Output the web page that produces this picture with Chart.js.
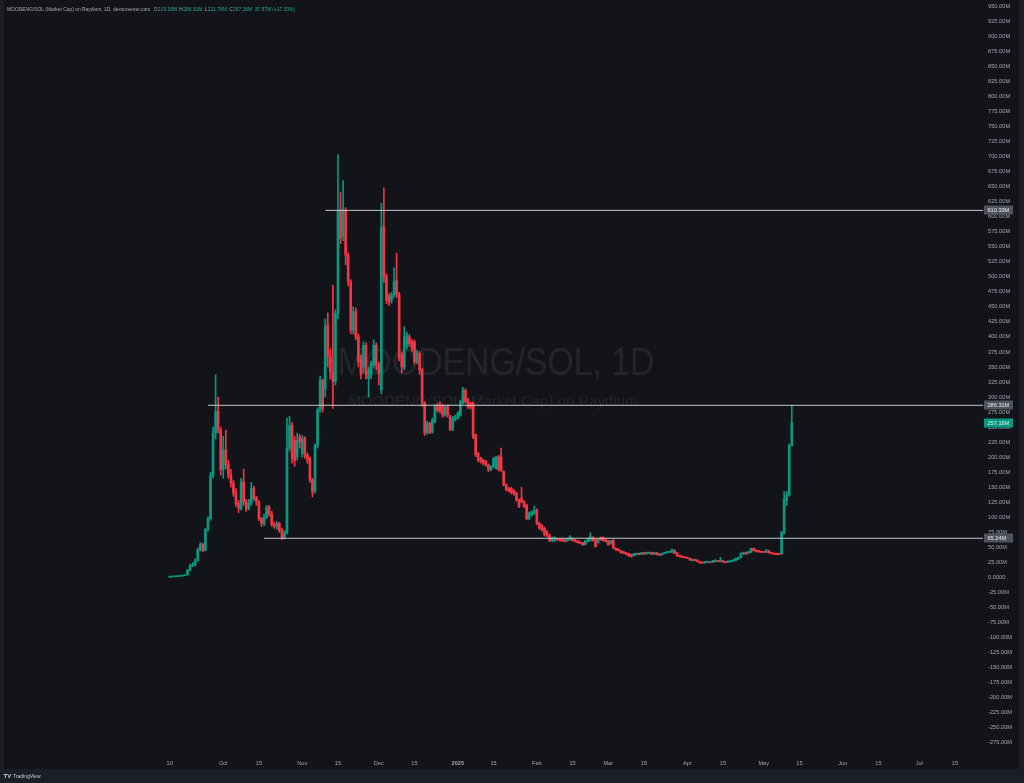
<!DOCTYPE html>
<html>
<head>
<meta charset="utf-8">
<script src="https://cdn.jsdelivr.net/npm/chart.js@4.4.1/dist/chart.umd.min.js"></script>
<style>
html,body{margin:0;padding:0;background:#1c1e25;}
#wrap{width:1024px;height:783px;}
</style>
</head>
<body>
<div id="wrap"><canvas id="c" width="1024" height="783"></canvas></div>
<script>
// ---------- DATA ----------
const axisStart = '2024-07-07';
const axisEnd = '2025-07-26';
const candleStart = '2024-09-10';

const opens = [0.5,1.0,1.2,1.6,2.0,2.5,3.2,4.2,12.5,20,21,28,46,55,45,80,98,170,240,276,245,180,212,188,170,157,140,123,115,159,126,115,124,148,132,125,98,90,100,117,106,88,85,90,79,66,74,215,253,228,201,234,206,231,204,198,162,145,220,278,328,314,420,367,342,326,439,611,567,611,536,492,411,442,400,364,350,386,331,337,353,386,353,312,583,500,467,461,470,494,470,370,350,386,400,392,392,359,373,345,290,241,256,242,259,284,287,284,270,284,267,246,262,265,270,290,311,295,290,290,237,206,198,195,193,187,179,184,182,201,200,176,154,148,148,144,140,129,132,126,120,98,104,107,112,90,86,82,76,70,61,62,64,64,63.5,62.4,61,62.4,65,62.4,61,59,58,55,59.6,61.2,67,63.5,57.9,66.8,66.8,63.5,61.2,56,62,48.5,47,44.6,43,41.3,40,38.5,36,38,40.2,38.5,41.3,39,40,41.8,39,41.3,39.6,37.4,40,41,42,41.8,45.7,41,37,35.5,34.6,33.5,32,28,30,29,26.3,25.5,24.2,25,26.3,25.2,26.3,28,26.3,28,26.3,25.2,26.3,27,28,30.2,33,39,41.8,40,42,48.5,45.7,44.6,43,42.5,41.8,44.6,41.8,40.2,40.2,39.6,39,75,128,137,219.18];
const highs = [1.2,1.5,1.9,2.4,3.0,3.8,5.0,13.5,22,25,31,49,58,57,82,101,175,250,337,300,250,235,245,195,180,162,148,128,165,180,130,130,158,152,135,128,100,105,120,120,110,92,93,92,82,78,265,268,258,235,240,238,236,234,207,200,165,222,282,335,330,430,440,380,486,445,703,640,660,615,540,495,450,448,405,370,392,390,350,360,395,390,358,622,648,505,472,474,515,539,474,375,417,408,404,396,395,378,376,348,292,260,258,265,287,290,292,288,286,287,270,268,270,276,295,316,314,298,292,292,239,208,200,197,195,189,186,200,202,203,215,178,156,150,150,146,142,131,150,128,122,109,111,119,114,92,88,84,78,72,67,68,65,64.5,64,63,64.5,69.5,65.5,63,61.5,59.5,58.5,61.5,65.5,74.5,67.5,64,64,67.5,67.5,64,61.5,61.8,62.5,49.5,48,45,43.5,42,40.5,39,40.2,40.7,40.7,41.8,41.8,42.3,42.3,42.3,41.8,41.8,40,40.7,42,43.3,44,47.5,46,41.5,37.5,36,35,34,32.5,30.7,30.5,29.5,26.8,26,26.8,27.2,26.8,28.5,29.5,28.5,33.5,28.5,26.8,27.9,28.5,29.6,32.4,34,40.7,42.3,42.3,43.5,49,49,46.2,45,43.5,43,46.2,45,42.3,40.7,40.7,40.2,77,143,143,222,286.31];
const lows = [0.4,0.9,1.1,1.4,1.8,2.3,3.0,4.0,11,18,19,27,44,43,44,77,95,165,230,240,170,165,180,165,150,135,118,108,112,120,110,112,120,128,120,95,85,86,98,102,85,82,80,75,63,64,72,210,190,185,195,215,200,198,190,158,134,140,215,275,275,300,350,330,281,320,430,555,560,520,485,405,405,395,350,330,340,330,300,330,348,345,320,305,490,455,452,456,466,465,360,340,345,380,384,376,355,355,338,285,236,238,239,240,257,275,273,266,268,266,244,244,260,263,268,288,290,281,280,231,201,192,190,187,185,176,177,182,180,177,176,152,144,142,139,137,127,116,124,116,96,96,102,105,88,80,77,69,68,59,59,60,61.5,60.5,60,59,60.5,62,60.5,59,57.5,56,53.5,54,59,60.5,60.5,50.5,57,62,60.5,59,53.5,55.5,48,45,44,40.5,39.5,38,35,34,35.5,37.5,37.5,38,38.5,38.5,39.5,38,38.5,37.5,36.5,37,39.5,40.5,41.5,41.5,39.5,35,34,33,32.5,31.5,28.5,27.5,27.5,25.8,23.6,23.6,23.8,24.7,24.2,24.7,25.8,25.8,25.8,25.2,24.2,24.7,25.8,26.5,27.5,29.7,32.5,38.5,38.5,39.5,41.5,44,42.5,42,41.5,41.3,41.3,40.5,39,38.5,37.5,38,38.5,72,120,135,219.18];
const closes = [1.0,1.2,1.6,2.0,2.5,3.2,4.2,12.5,20,21,28,46,55,45,80,98,170,240,276,245,179,212,188,170,157,140,123,115,159,126,115,124,148,132,125,98,90,100,117,106,88,85,90,79,66,74,215,253,198,195,228,225,231,204,195,162,142,220,278,328,281,417,367,342,326,439,611,564,611,536,492,411,442,400,359,337,386,337,345,356,386,353,340,583,500,461,458,470,492,470,364,350,400,403,389,381,359,373,345,290,240,256,241,262,284,278,276,270,284,270,246,265,267,273,292,312,292,284,283,234,204,195,193,190,187,179,184,198,200,179,179,154,146,144,141,139,129,118,126,118,98,107,109,112,90,82,79,71,70,61,65,66,62.4,61.2,60.7,59.6,64,67.9,61.2,59.6,57.9,56.8,54,61,65,67.9,61.2,51.3,63.5,62.4,61.2,59.6,54,61.2,48.5,45.7,44.6,41.3,40.2,38.5,35.7,34.6,39.6,40.2,38,41.3,39,41.8,41.8,38.5,41.3,38,37,40.2,41.3,42.8,43.5,45.7,40.2,35.7,34.6,33.5,33,31.9,29,30.2,28,26.3,24.2,24.2,26.3,26.8,24.7,28,29,26.3,28.5,25.8,24.7,27.4,28,29.1,31.9,33.5,40.2,41.8,39,43,48.5,44.6,43,42.5,42,41.8,45.7,41,39.6,39,38,38.5,75,130,137,220,257.16];

const levelValues = [610.33, 286.31, 65.24];
const levelStarts = ['2024-11-10', '2024-09-25', '2024-10-17'];

const yTickValues = [-275,-250,-225,-200,-175,-150,-125,-100,-75,-50,-25,0,25,50,75,100,125,150,175,200,225,250,275,300,325,350,375,400,425,450,475,500,525,550,575,600,625,650,675,700,725,750,775,800,825,850,875,900,925,950];

const xTickDates = ['2024-09-10','2024-10-01','2024-10-15','2024-11-01','2024-11-15','2024-12-01','2024-12-15','2025-01-01','2025-01-15','2025-02-01','2025-02-15','2025-03-01','2025-03-15','2025-04-01','2025-04-15','2025-05-01','2025-05-15','2025-06-01','2025-06-15','2025-07-01','2025-07-15'];
const xTickLabels = ['10','Oct','15','Nov','15','Dec','15','2025','15','Feb','15','Mar','15','Apr','15','May','15','Jun','15','Jul','15'];

const headerTitle = 'MOODENG/SOL (Market Cap) on Raydium, 1D, dexscreener.com';
const headerParts = [['O','219.18M'],['H','286.31M'],['L','221.76M'],['C','257.16M']];
const headerChange = '37.97M (+17.33%)';
const lastPrice = 257.16;
const watermark1 = 'MOODENG/SOL, 1D';
const watermark2 = 'MOODENG/SOL (Market Cap) on Raydium';

// ---------- BUILD ----------
const UP = '#089981', DOWN = '#f23645';
function iso(d){ return d.toISOString().slice(0,10); }
const labels = [];
for (let d = new Date(axisStart + 'T00:00:00Z'); d <= new Date(axisEnd + 'T00:00:00Z'); d.setUTCDate(d.getUTCDate()+1)) labels.push(iso(d));
const firstIdx = labels.indexOf(candleStart);
const lastLabel = labels[labels.length-1];

function candleAt(j){ const k = j - firstIdx; return (k >= 0 && k < closes.length) ? k : -1; }
const bodyData = labels.map((_, j) => { const k = candleAt(j); return k < 0 ? null : [opens[k], closes[k]]; });
const wickData = labels.map((_, j) => { const k = candleAt(j); return k < 0 ? null : [lows[k], highs[k]]; });
const colors = labels.map((_, j) => { const k = candleAt(j); return k < 0 ? UP : (closes[k] >= opens[k] ? UP : DOWN); });

const levelDatasets = levelValues.map((v, n) => ({
  type: 'line',
  data: [{x: levelStarts[n], y: v}, {x: lastLabel, y: v}],
  borderColor: '#c3c6ce', borderWidth: 1, pointRadius: 0, fill: false, order: 0
}));

const FONT = '"Liberation Sans", Arial, sans-serif';

const decor = {
  id: 'decor',
  beforeDraw(chart){
    const ctx = chart.ctx;
    ctx.save();
    ctx.fillStyle = '#1c1e25';
    ctx.fillRect(0,0,chart.width,chart.height);
    ctx.fillStyle = '#12141a';
    ctx.fillRect(4,0,1015,769);
    ctx.restore();
  },
  beforeDatasetsDraw(chart){
    const ctx = chart.ctx;
    ctx.save();
    ctx.fillStyle = 'rgba(255,255,255,0.075)';
    ctx.textAlign = 'center'; ctx.textBaseline = 'middle';
    ctx.font = '38px ' + FONT;
    ctx.fillText(watermark1, 496, 365, 317);
    ctx.font = '15px ' + FONT;
    ctx.fillText(watermark2, 493, 402, 340);
    ctx.restore();
  },
  afterDraw(chart){
    const ctx = chart.ctx, a = chart.chartArea, y = chart.scales.y;
    ctx.save();
    // header
    ctx.textBaseline = 'middle'; ctx.textAlign = 'left';
    ctx.font = '4.9px ' + FONT;
    let x = 7; const hy = 9.5;
    ctx.fillStyle = '#a8abb4';
    ctx.fillText(headerTitle, x, hy);
    x += ctx.measureText(headerTitle).width + 3.5;
    headerParts.forEach(p => {
      ctx.fillStyle = '#a8abb4'; ctx.fillText(p[0], x, hy); x += ctx.measureText(p[0]).width + 0.3;
      ctx.fillStyle = '#22ab94'; ctx.fillText(p[1], x, hy); x += ctx.measureText(p[1]).width + 2.5;
    });
    ctx.fillStyle = '#22ab94'; ctx.fillText(headerChange, x, hy);
    // price tags
    const tags = [[levelValues[0], '#50535d'], [levelValues[1], '#50535d'], [levelValues[2], '#50535d'], [lastPrice, UP]];
    tags.forEach(t => {
      const py = Math.round(y.getPixelForValue(t[0]));
      ctx.fillStyle = t[1];
      ctx.fillRect(a.right + 1, py - 4.5, 29, 9);
      ctx.fillStyle = '#e8e9ec';
      ctx.font = '5.6px ' + FONT;
      ctx.textAlign = 'left';
      ctx.fillText(t[0].toFixed(2) + 'M', a.right + 4.5, py + 0.3);
    });
    // tradingview logo
    ctx.fillStyle = '#c9ccd3';
    ctx.font = 'bold 6px ' + FONT;
    ctx.fillText('TV', 3.5, 776.5);
    ctx.font = '5px ' + FONT;
    ctx.fillText('TradingView', 13, 776.5);
    ctx.restore();
  }
};

new Chart(document.getElementById('c'), {
  type: 'bar',
  data: {
    labels: labels,
    datasets: [
      ...levelDatasets,
      { data: bodyData, backgroundColor: colors, borderWidth: 0, barThickness: 2, grouped: false, minBarLength: 1, order: 1 },
      { data: wickData, backgroundColor: colors, borderWidth: 0, barThickness: 1, grouped: false, order: 2 }
    ]
  },
  options: {
    responsive: false,
    animation: false,
    devicePixelRatio: 1,
    layout: { padding: { left: 4, right: 5, top: 0, bottom: 14 } },
    plugins: { legend: { display: false }, tooltip: { enabled: false } },
    scales: {
      x: {
        type: 'category',
        offset: false,
        grid: { display: false, drawTicks: false },
        border: { display: false },
        afterFit(s){ s.height = 17; s.paddingLeft = 0; s.paddingRight = 0; },
        ticks: {
          autoSkip: false, maxRotation: 0, minRotation: 0, padding: 8,
          color: '#a3a6af',
          font: (c) => ({ family: FONT, size: 5.6, weight: (c.tick && c.tick.label === '2025') ? 'bold' : 'normal' }),
          callback(value){
            const d = this.getLabelForValue(value);
            const n = xTickDates.indexOf(d);
            return n >= 0 ? xTickLabels[n] : '';
          }
        }
      },
      y: {
        position: 'right',
        min: -290.1, max: 960.1,
        grid: { display: false, drawTicks: false },
        border: { display: false },
        afterFit(s){ s.width = 36; s.paddingTop = 0; s.paddingBottom = 0; },
        afterBuildTicks(s){ s.ticks = yTickValues.map(v => ({ value: v })); },
        ticks: {
          padding: 5, color: '#a3a6af',
          font: { family: FONT, size: 5.7 },
          callback(v){ return v === 0 ? '0.0000' : v.toFixed(2) + 'M'; }
        }
      }
    }
  },
  plugins: [decor]
});
</script>
</body>
</html>
